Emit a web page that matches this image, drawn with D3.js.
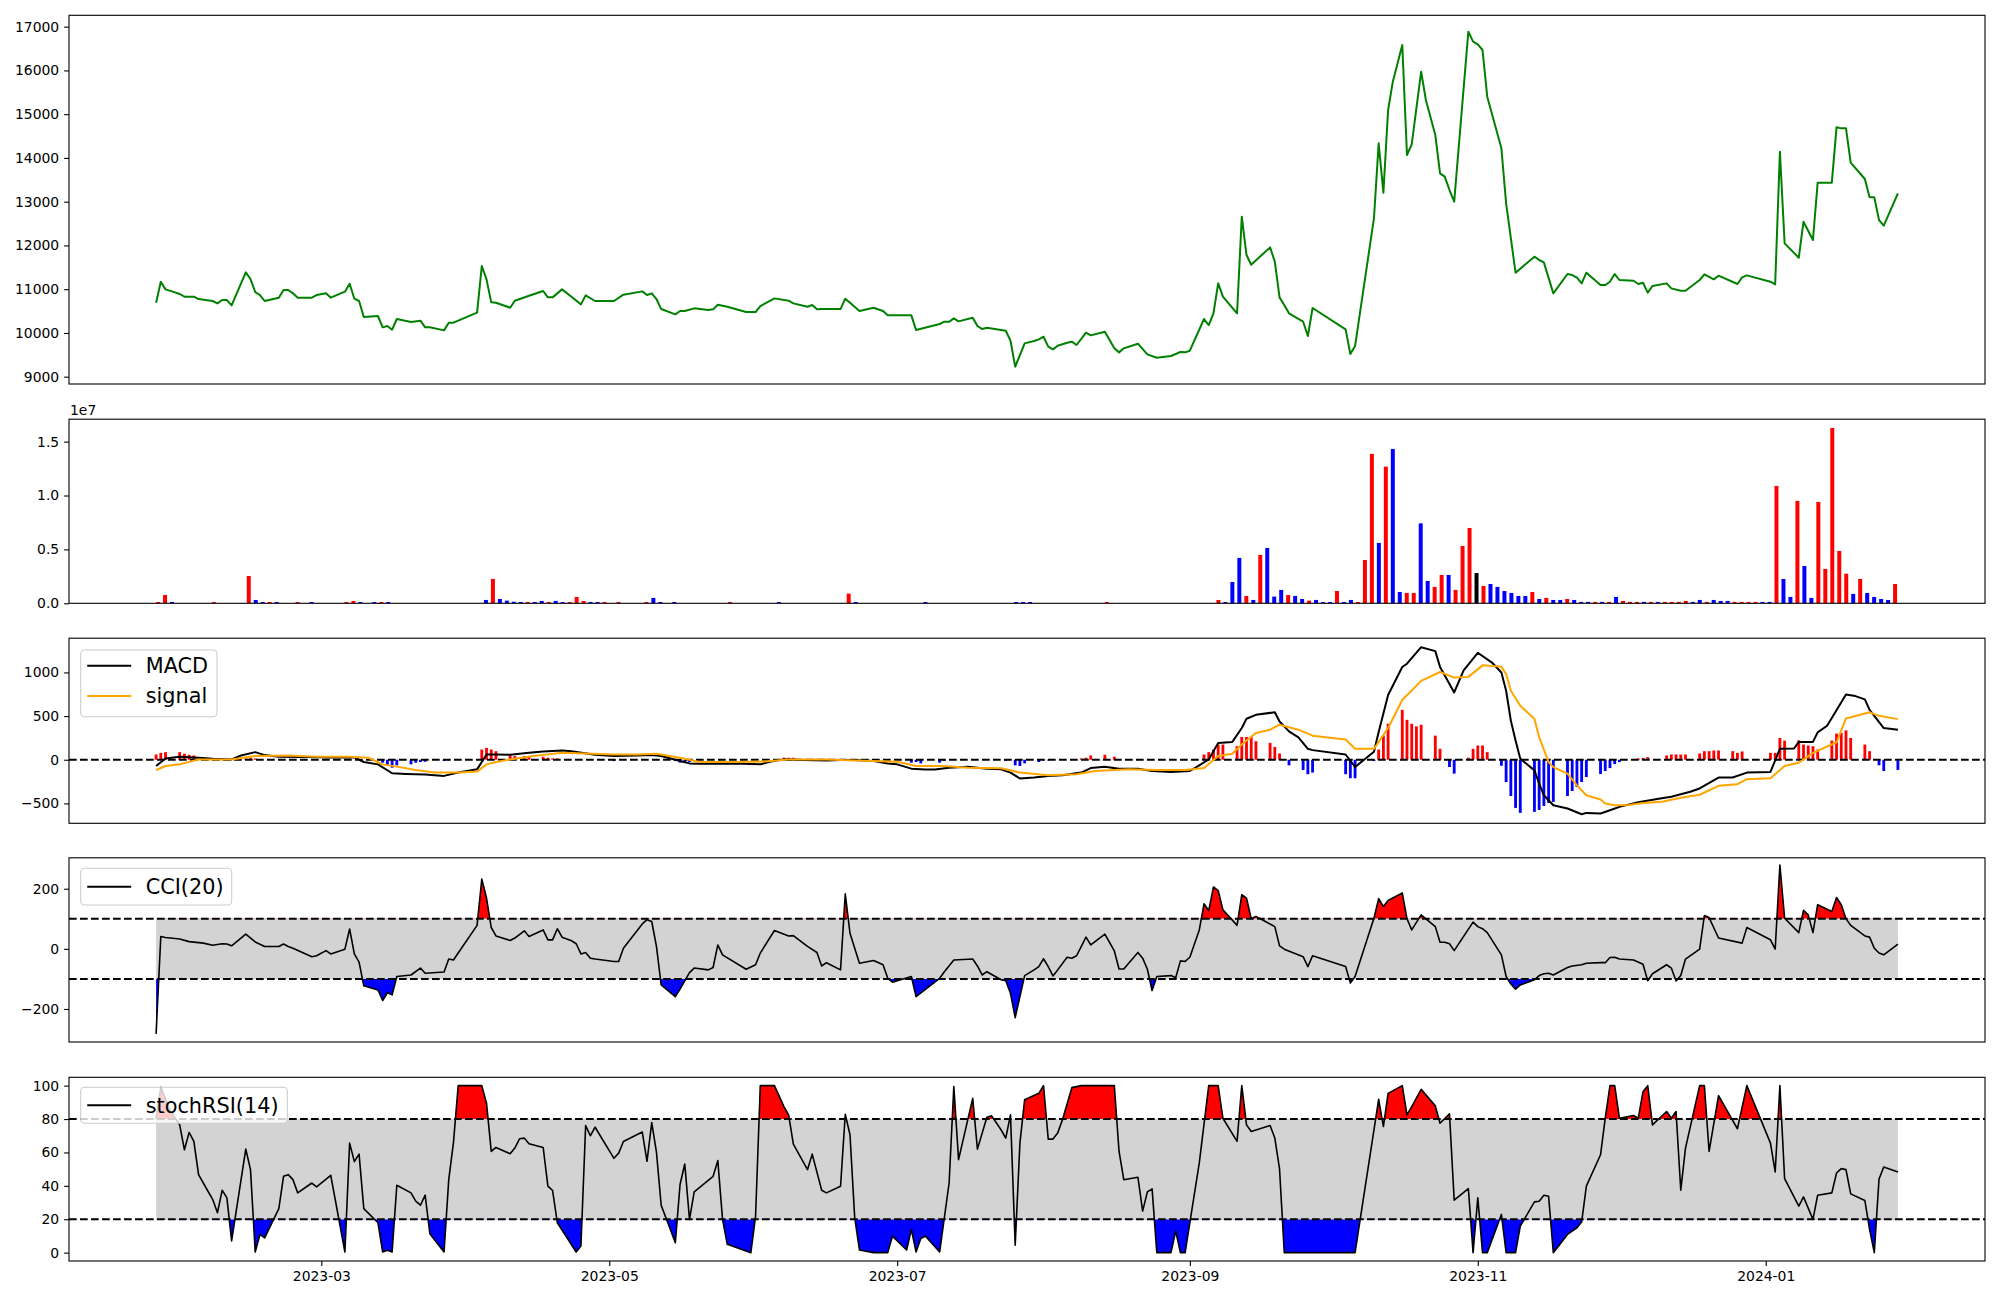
<!DOCTYPE html>
<html><head><meta charset="utf-8">
<script src="https://cdn.jsdelivr.net/npm/d3@7"></script>
<style>body{margin:0;background:#fff}svg{display:block}text{font-family:"DejaVu Sans",sans-serif}</style>
</head><body><svg id="c" width="2000" height="1300"></svg>
<script>
// ---------- DATA (x = trading day offset from 2023-01-25) ----------
const startDate = "2023-01-25";
const price = [[0,10691],[1,11171],[2,10996],[4,10928],[5,10890],[6,10829],[8,10829],[9,10775],[12,10730],[13,10676],[14,10752],[15,10752],[16,10630],[19,11385],[20,11232],[21,10935],[22,10867],[23,10730],[26,10806],[27,10981],[28,10981],[29,10905],[30,10806],[33,10806],[34,10867],[36,10905],[37,10806],[40,10943],[41,11126],[42,10783],[43,10730],[44,10364],[47,10387],[48,10128],[49,10158],[50,10074],[51,10318],[54,10249],[56,10280],[57,10128],[58,10128],[61,10059],[62,10234],[63,10234],[68,10463],[69,11530],[70,11225],[71,10699],[72,10691],[75,10577],[76,10737],[79,10851],[82,10958],[83,10813],[84,10813],[86,10996],[88,10829],[90,10653],[91,10859],[93,10730],[97,10730],[99,10874],[103,10950],[104,10867],[105,10905],[106,10775],[107,10546],[110,10425],[111,10501],[112,10501],[114,10562],[117,10524],[118,10539],[119,10646],[121,10600],[125,10478],[127,10478],[128,10615],[131,10790],[134,10737],[135,10676],[138,10600],[139,10638],[140,10539],[141,10546],[145,10546],[146,10783],[147,10691],[149,10501],[152,10577],[154,10501],[155,10402],[160,10402],[161,10067],[166,10204],[167,10257],[168,10257],[169,10333],[170,10265],[173,10349],[174,10158],[175,10089],[176,10120],[179,10067],[180,10051],[181,9823],[182,9229],[183,9495],[184,9762],[186,9815],[187,9853],[188,9914],[189,9686],[190,9625],[191,9708],[193,9777],[194,9800],[195,9724],[197,10006],[198,9945],[201,10029],[203,9648],[204,9556],[205,9648],[208,9754],[210,9511],[212,9434],[215,9473],[217,9564],[218,9556],[219,9594],[222,10318],[223,10181],[224,10448],[225,11133],[226,10829],[229,10448],[230,12657],[231,11781],[232,11560],[234,11758],[236,11956],[237,11629],[238,10813],[239,10638],[240,10448],[243,10257],[244,9930],[245,10570],[252,10082],[253,9518],[254,9701],[258,12619],[259,14333],[260,13206],[261,15095],[262,15743],[264,16581],[265,14067],[266,14311],[268,15972],[269,15324],[271,14524],[272,13648],[273,13572],[274,13267],[275,13000],[278,16886],[279,16657],[280,16596],[281,16467],[282,15400],[285,14219],[286,12962],[288,11377],[292,11743],[293,11667],[294,11613],[296,10905],[299,11347],[300,11324],[301,11263],[302,11133],[303,11377],[306,11095],[307,11095],[308,11171],[309,11347],[310,11210],[313,11194],[314,11118],[315,11148],[316,10920],[317,11072],[320,11133],[321,11019],[323,10966],[324,10966],[327,11210],[328,11339],[330,11225],[331,11309],[335,11118],[336,11271],[337,11316],[342,11171],[343,11110],[344,14143],[345,12048],[348,11720],[349,12543],[351,12124],[352,13434],[355,13434],[356,14699],[357,14676],[358,14676],[359,13891],[362,13518],[363,13099],[364,13099],[365,12581],[366,12451],[369,13191]];

// volume bars: [bar index, volume, colour code]
const volume = [[0,0.012e7,'r'],[1,0.077e7,'r'],[2,0.012e7,'b'],[8,0.012e7,'r'],[13,0.253e7,'r'],[14,0.031e7,'b'],[15,0.012e7,'b'],[16,0.012e7,'r'],[17,0.012e7,'b'],[20,0.012e7,'r'],[22,0.012e7,'b'],[27,0.012e7,'r'],[28,0.022e7,'r'],[29,0.012e7,'b'],[31,0.012e7,'b'],[32,0.012e7,'r'],[33,0.012e7,'b'],[47,0.031e7,'b'],[48,0.226e7,'r'],[49,0.04e7,'b'],[50,0.025e7,'b'],[51,0.015e7,'b'],[52,0.012e7,'b'],[53,0.012e7,'r'],[54,0.012e7,'b'],[55,0.022e7,'b'],[56,0.012e7,'r'],[57,0.022e7,'b'],[58,0.012e7,'b'],[59,0.012e7,'r'],[60,0.059e7,'r'],[61,0.022e7,'r'],[62,0.012e7,'b'],[63,0.012e7,'b'],[64,0.012e7,'r'],[66,0.012e7,'r'],[70,0.012e7,'r'],[71,0.05e7,'b'],[72,0.012e7,'b'],[74,0.012e7,'b'],[82,0.012e7,'r'],[89,0.012e7,'b'],[99,0.09e7,'r'],[100,0.012e7,'b'],[110,0.012e7,'b'],[123,0.012e7,'b'],[124,0.012e7,'b'],[125,0.012e7,'b'],[136,0.012e7,'r'],[152,0.031e7,'r'],[153,0.012e7,'b'],[154,0.198e7,'b'],[155,0.421e7,'b'],[156,0.068e7,'r'],[157,0.031e7,'b'],[158,0.449e7,'r'],[159,0.513e7,'b'],[160,0.062e7,'b'],[161,0.124e7,'b'],[162,0.077e7,'r'],[163,0.068e7,'b'],[164,0.04e7,'b'],[165,0.025e7,'r'],[166,0.031e7,'b'],[167,0.012e7,'b'],[168,0.012e7,'b'],[169,0.114e7,'r'],[170,0.012e7,'b'],[171,0.031e7,'b'],[172,0.012e7,'r'],[173,0.402e7,'r'],[174,1.386e7,'r'],[175,0.56e7,'b'],[176,1.268e7,'r'],[177,1.432e7,'b'],[178,0.105e7,'b'],[179,0.096e7,'r'],[180,0.096e7,'r'],[181,0.742e7,'b'],[182,0.207e7,'b'],[183,0.152e7,'r'],[184,0.263e7,'r'],[185,0.263e7,'b'],[186,0.124e7,'r'],[187,0.532e7,'r'],[188,0.699e7,'r'],[189,0.281e7,'k'],[190,0.161e7,'r'],[191,0.179e7,'b'],[192,0.152e7,'b'],[193,0.114e7,'b'],[194,0.096e7,'b'],[195,0.068e7,'b'],[196,0.068e7,'b'],[197,0.105e7,'r'],[198,0.04e7,'b'],[199,0.05e7,'r'],[200,0.031e7,'b'],[201,0.031e7,'b'],[202,0.04e7,'r'],[203,0.031e7,'b'],[204,0.013e7,'b'],[205,0.013e7,'b'],[206,0.013e7,'r'],[207,0.013e7,'b'],[208,0.013e7,'r'],[209,0.059e7,'b'],[210,0.022e7,'r'],[211,0.013e7,'r'],[212,0.013e7,'r'],[213,0.013e7,'b'],[214,0.013e7,'r'],[215,0.013e7,'b'],[216,0.013e7,'r'],[217,0.013e7,'r'],[218,0.013e7,'r'],[219,0.022e7,'r'],[220,0.013e7,'b'],[221,0.031e7,'b'],[222,0.013e7,'r'],[223,0.031e7,'b'],[224,0.022e7,'b'],[225,0.022e7,'b'],[226,0.013e7,'r'],[227,0.013e7,'r'],[228,0.013e7,'r'],[229,0.013e7,'r'],[230,0.013e7,'b'],[231,0.013e7,'b'],[232,1.089e7,'r'],[233,0.226e7,'b'],[234,0.059e7,'b'],[235,0.95e7,'r'],[236,0.346e7,'b'],[237,0.05e7,'b'],[238,0.94e7,'r'],[239,0.319e7,'r'],[240,1.627e7,'r'],[241,0.486e7,'r'],[242,0.275e7,'r'],[243,0.087e7,'b'],[244,0.226e7,'r'],[245,0.096e7,'b'],[246,0.059e7,'b'],[247,0.04e7,'b'],[248,0.031e7,'b'],[249,0.179e7,'r']];
const volumeBarCount = 250;

const macd = [[0,-72],[2,15],[5,34],[9,23],[12,11],[16,4],[18,49],[21,87],[23,53],[26,34],[32,30],[37,26],[42,26],[44,-26],[47,-53],[50,-155],[53,-163],[57,-170],[61,-185],[64,-147],[68,-110],[70,60],[72,60],[75,57],[79,79],[82,95],[86,106],[88,98],[93,57],[97,42],[102,49],[105,53],[107,42],[111,-15],[113,-42],[115,-45],[120,-42],[124,-45],[128,-53],[130,-23],[133,4],[137,-4],[142,-8],[145,-4],[148,-4],[152,-15],[155,-42],[157,-53],[160,-102],[163,-113],[165,-113],[168,-91],[172,-79],[176,-102],[179,-110],[181,-147],[183,-215],[186,-204],[189,-185],[192,-178],[196,-147],[198,-95],[201,-79],[204,-102],[208,-102],[211,-129],[215,-140],[219,-129],[221,-64],[223,4],[225,193],[228,204],[230,363],[231,469],[233,514],[237,544],[238,438],[240,325],[242,257],[244,125],[245,110],[252,60],[254,-83],[258,91],[259,318],[261,741],[264,1062],[265,1100],[268,1289],[271,1244],[272,1062],[275,771],[277,1024],[280,1225],[283,1113],[285,999],[286,790],[287,448],[288,220],[289,11],[292,-122],[293,-274],[294,-407],[296,-521],[299,-559],[302,-624],[303,-609],[306,-616],[308,-578],[310,-540],[314,-488],[318,-450],[321,-423],[325,-367],[327,-329],[331,-204],[334,-204],[337,-147],[342,-140],[344,125],[347,129],[348,204],[351,204],[352,314],[354,389],[358,748],[360,729],[362,691],[363,571],[366,363],[369,344]];
const signal = [[0,-117],[2,-72],[5,-53],[9,4],[16,4],[21,42],[28,49],[34,34],[41,34],[45,23],[48,-53],[51,-79],[55,-117],[59,-147],[64,-147],[68,-136],[70,-53],[72,-26],[75,4],[80,42],[86,79],[91,72],[97,60],[102,60],[106,68],[111,23],[115,-26],[124,-26],[129,-19],[134,4],[142,4],[148,-8],[157,-23],[161,-72],[167,-72],[172,-91],[179,-98],[183,-147],[189,-178],[195,-166],[199,-129],[206,-110],[212,-117],[218,-117],[222,-95],[225,42],[228,68],[230,174],[233,306],[236,344],[238,401],[242,344],[245,276],[252,231],[254,125],[258,125],[261,363],[264,684],[268,903],[272,1005],[275,941],[278,949],[281,1081],[283,1075],[285,1064],[286,981],[287,790],[289,619],[292,467],[293,258],[295,-27],[296,-84],[299,-160],[301,-293],[303,-407],[306,-456],[307,-502],[309,-521],[310,-521],[312,-518],[315,-495],[319,-480],[323,-435],[327,-401],[331,-299],[335,-280],[337,-223],[342,-212],[345,-72],[348,-34],[351,79],[356,200],[358,473],[363,544],[365,503],[369,465]];
const histogram = [[0,60],[1,79],[2,87],[5,87],[6,68],[7,57],[8,49],[19,15],[20,20],[21,15],[48,-34],[49,-64],[50,-91],[51,-64],[54,-53],[55,-34],[56,-26],[57,-23],[61,-15],[62,-8],[69,117],[70,136],[71,117],[72,98],[75,49],[76,42],[78,42],[79,42],[82,34],[83,23],[84,15],[85,15],[97,-15],[110,-15],[111,-34],[112,-34],[113,-26],[133,23],[134,23],[135,23],[160,-34],[161,-26],[162,-42],[166,-34],[167,-15],[180,-15],[181,-4],[182,-64],[183,-72],[184,-42],[187,-26],[188,-8],[189,-8],[196,15],[197,23],[198,49],[201,57],[203,34],[222,60],[223,87],[224,117],[225,174],[226,174],[229,155],[230,261],[231,261],[232,261],[233,212],[236,193],[237,147],[238,72],[240,-64],[243,-117],[244,-166],[245,-147],[252,-166],[253,-212],[254,-212],[258,-15],[259,117],[260,276],[261,412],[264,571],[265,457],[266,412],[267,382],[268,401],[271,276],[272,125],[274,-83],[275,-159],[278,23],[279,125],[280,163],[281,163],[282,87],[285,-68],[286,-255],[287,-415],[288,-552],[289,-609],[292,-597],[293,-575],[294,-529],[295,-495],[296,-483],[299,-415],[300,-358],[301,-312],[302,-255],[303,-198],[306,-164],[307,-130],[308,-96],[309,-50],[310,-27],[314,15],[315,19],[316,30],[320,49],[321,60],[322,60],[323,60],[324,60],[327,72],[328,98],[329,98],[330,106],[331,106],[334,98],[335,79],[336,95],[342,79],[343,79],[344,249],[345,219],[348,223],[349,174],[350,163],[351,155],[352,117],[355,219],[356,299],[357,306],[358,336],[359,249],[362,174],[363,98],[365,-64],[366,-129],[369,-117]];
const cci = [[0,-283],[1,41],[2,38],[5,33],[7,24],[10,19],[12,12],[14,17],[15,16],[16,10],[19,49],[21,23],[23,8],[26,8],[27,16],[28,8],[29,2],[31,-12],[33,-26],[34,-23],[36,-6],[37,-17],[40,-1],[41,66],[42,-17],[43,-44],[44,-123],[47,-137],[48,-172],[49,-146],[50,-153],[51,-92],[54,-87],[56,-64],[57,-81],[61,-77],[62,-34],[63,-37],[64,-14],[68,78],[69,232],[70,169],[71,71],[72,43],[75,28],[76,36],[78,60],[79,41],[82,63],[83,30],[84,30],[85,67],[86,39],[88,27],[89,17],[90,-17],[91,-12],[92,-31],[93,-34],[97,-42],[98,-42],[99,2],[103,83],[104,97],[105,91],[106,8],[107,-120],[110,-159],[111,-134],[113,-79],[114,-64],[117,-70],[118,-62],[119,13],[120,-20],[125,-68],[127,-53],[128,-14],[131,61],[134,43],[135,44],[138,8],[140,-12],[141,-57],[142,-46],[145,-70],[146,183],[147,52],[149,-48],[152,-39],[154,-53],[155,-98],[156,-111],[160,-92],[161,-159],[166,-98],[167,-76],[169,-37],[173,-34],[174,-57],[175,-87],[176,-76],[179,-103],[180,-106],[181,-148],[182,-229],[184,-89],[186,-70],[187,-59],[188,-33],[189,-59],[190,-90],[191,-70],[193,-28],[194,-31],[195,-23],[197,39],[198,13],[201,49],[203,-7],[204,-67],[205,-67],[208,-12],[209,-31],[210,-68],[211,-139],[212,-92],[215,-89],[216,-96],[217,-40],[218,-42],[219,-28],[221,63],[222,150],[223,127],[224,206],[225,194],[226,130],[229,78],[230,180],[231,169],[232,100],[233,108],[235,91],[237,74],[238,10],[239,-1],[243,-26],[244,-59],[245,-23],[252,-59],[253,-114],[254,-92],[258,102],[259,167],[260,141],[261,161],[264,186],[265,100],[266,63],[268,113],[271,74],[272,22],[273,22],[274,17],[275,-6],[279,89],[280,74],[281,67],[282,54],[285,-20],[286,-92],[287,-117],[288,-134],[289,-120],[292,-103],[293,-89],[294,-83],[295,-81],[296,-87],[299,-62],[300,-57],[302,-53],[303,-48],[306,-46],[307,-46],[308,-29],[309,-28],[310,-34],[313,-37],[315,-51],[316,-106],[317,-83],[320,-53],[321,-64],[322,-107],[323,-89],[324,-34],[327,-1],[328,111],[329,104],[331,36],[336,19],[337,71],[342,30],[343,-1],[344,279],[345,102],[348,54],[349,128],[350,113],[351,54],[352,147],[355,124],[356,171],[357,147],[358,100],[359,78],[362,43],[363,39],[364,2],[365,-14],[366,-20],[369,16]];
const stochRSI = [[0,80],[1,99],[3,85],[5,76.5],[6,61.6],[7,72],[8,66.6],[9,46.7],[10,41.7],[12,31.8],[13,23.9],[14,37.4],[15,32.8],[16,7],[19,62],[20,49.7],[21,0.4],[22,10.9],[23,8.9],[26,26.4],[27,45.7],[28,46.7],[29,43.7],[30,35.8],[33,41.7],[34,39.4],[37,46.3],[40,0.4],[41,65.6],[42,54.5],[43,59],[44,26.4],[47,17.9],[48,0.4],[49,1.4],[50,0.4],[51,40.4],[54,35.8],[55,30.8],[56,28.4],[57,34.4],[58,11.3],[61,0.4],[62,43.7],[63,66],[64,100],[69,100],[70,89.5],[71,60.6],[72,63],[75,59.2],[76,62.6],[77,68.2],[78,68.6],[79,65.2],[82,63],[83,39.8],[84,37.2],[85,17.9],[89,0.4],[90,4],[91,76.1],[92,70],[93,75.1],[97,56.5],[98,59.6],[99,66.6],[103,72.2],[104,54.7],[105,77.9],[106,60.2],[107,28.4],[110,6],[111,40.8],[112,53.1],[113,19.9],[114,36.4],[118,45.7],[119,55.1],[120,19.9],[121,5],[126,0],[127,21.9],[128,100],[131,100],[133,87.5],[134,82.5],[135,65],[138,49.7],[139,59],[141,37.4],[142,35.8],[145,39.8],[146,82.9],[147,70.6],[148,20.9],[149,1.6],[152,0],[155,0],[156,9.9],[159,1.6],[160,13.9],[161,0.4],[162,8.5],[163,9.9],[166,0.4],[168,41.7],[169,99.4],[170,55.7],[173,92.4],[174,62],[176,81.1],[177,81.9],[179,73.6],[180,68.6],[181,82.5],[182,4.4],[183,65.6],[184,91.5],[187,95.4],[188,100],[189,68],[190,68],[191,71.6],[192,79.5],[194,98.8],[196,100],[203,100],[204,60.6],[205,43.7],[208,45.1],[209,24.9],[210,36.4],[211,38.2],[212,0],[215,0],[216,12.9],[217,0],[218,0],[221,53.7],[223,100],[225,100],[226,80.5],[229,66.6],[230,100],[231,76.5],[232,72.6],[236,76.1],[237,68.6],[238,50.1],[239,0],[254,0],[259,91.8],[260,75.5],[261,95.4],[264,100],[265,82.5],[266,87.5],[268,97.8],[271,87.9],[272,77.5],[274,83.1],[275,31.4],[278,38.4],[279,0],[280,32.8],[281,0],[282,0],[285,22.9],[286,0],[288,0],[289,15.9],[292,30.4],[293,30.8],[294,34.4],[295,33.8],[296,0],[299,10.9],[301,14.9],[302,18.3],[303,39.8],[306,58.6],[307,80.5],[308,100],[309,100],[310,80.5],[313,82.1],[314,80.5],[315,96.4],[316,100],[317,76.5],[320,84.5],[321,80.5],[322,84.5],[323,37.4],[324,62.6],[327,100],[328,100],[329,60.6],[331,94],[335,74.2],[337,100],[342,65.6],[343,48.3],[344,100],[345,44.3],[348,27.8],[349,33.4],[351,19.9],[352,34.4],[355,35.8],[356,47.7],[357,50.3],[358,49.7],[359,35.2],[362,31.2],[363,13.9],[364,0],[365,44.1],[366,51.3],[369,48.3]];

const xTickLabels = ["2023-03","2023-05","2023-07","2023-09","2023-11","2024-01"];
const priceTicks = [9000,10000,11000,12000,13000,14000,15000,16000,17000];
const volumeTicks = [0,0.5e7,1.0e7,1.5e7];
const macdTicks = [-500,0,500,1000];
const cciTicks = [-200,0,200];
const stochTicks = [0,20,40,60,80,100];
const cciLevels = [100,-100];
const stochLevels = [80,20];

// ---------- LAYOUT ----------
const svg = d3.select("#c");
const L = 69, R = 1985;
const P = [{t:15.3,b:384},{t:419.2,b:603.3},{t:638.2,b:823.3},{t:857.8,b:1042},{t:1077.3,b:1261}];
const DAY = 864e5, t0 = d3.utcParse("%Y-%m-%d")(startDate).getTime();
const toDate = d => new Date(t0 + d*DAY);
const lastDay = price[price.length-1][0];
const pad = 0.05*lastDay;
const x = d3.scaleUtc().domain([toDate(-pad), toDate(lastDay+pad)]).range([L,R]);
const minus = s => String(s).replace("-", "\u2212");
const colorMap = {r:"red", b:"blue", k:"black"};

let clipN = 0;
function clipRect(x0,y0,w,h){
  const id = "cl"+(clipN++);
  svg.append("clipPath").attr("id",id).append("rect").attr("x",x0).attr("y",y0).attr("width",w).attr("height",h);
  return "url(#"+id+")";
}
function makePanel(i, domain, ticks, fmt){
  const p = P[i];
  const y = d3.scaleLinear().domain(domain).range([p.b,p.t]);
  const g = svg.append("g").attr("clip-path", clipRect(L,p.t,R-L,p.b-p.t));
  const ax = svg.append("g").attr("transform",`translate(${L},0)`)
    .call(d3.axisLeft(y).tickValues(ticks).tickSize(4.9).tickPadding(4.9).tickFormat(fmt));
  ax.select(".domain").remove();
  ax.selectAll("text").attr("font-size","13.9px").attr("font-family","DejaVu Sans").attr("fill","#000");
  ax.selectAll("line").attr("stroke","#000").attr("stroke-width",1.1);
  return {g,y,p};
}
function frame(p){
  svg.append("rect").attr("x",L).attr("y",p.t).attr("width",R-L).attr("height",p.b-p.t)
    .attr("fill","none").attr("stroke","#000").attr("stroke-width",1.1);
}
function hline(g,y,v){
  g.append("line").attr("x1",L).attr("x2",R).attr("y1",y(v)).attr("y2",y(v))
    .attr("stroke","#000").attr("stroke-width",2).attr("stroke-dasharray","7.7,3.3");
}
function drawLine(g,y,data,color,w){
  g.append("path").datum(data)
    .attr("d", d3.line().x(d=>x(toDate(d[0]))).y(d=>y(d[1])))
    .attr("fill","none").attr("stroke",color).attr("stroke-width",w).attr("stroke-linejoin","round");
}
function legend(x0,y0,w,h,items){
  const lg = svg.append("g");
  lg.append("rect").attr("x",x0).attr("y",y0).attr("width",w).attr("height",h).attr("rx",4)
    .attr("fill","#fff").attr("fill-opacity",0.8).attr("stroke","#cccccc").attr("stroke-width",1.1);
  items.forEach((it,k)=>{
    const cy = it.cy;
    lg.append("line").attr("x1",x0+6.5).attr("x2",x0+50.5).attr("y1",cy).attr("y2",cy)
      .attr("stroke",it.color).attr("stroke-width",2);
    lg.append("text").attr("x",x0+65).attr("y",cy).attr("dy","0.36em").attr("font-size","20.8px")
      .attr("fill","#000").text(it.label);
  });
}
function bandPanel(panel, data, hi, lo){
  const {g,y,p} = panel;
  const dx = d=>x(toDate(d[0]));
  const ends = [data[0][0], data[data.length-1][0]];
  g.append("path").datum(ends)
    .attr("d", d3.area().x(d=>x(toDate(d))).y0(y(lo)).y1(y(hi)))
    .attr("fill","#d3d3d3");
  g.append("g").attr("clip-path", clipRect(L,p.t,R-L,y(hi)-p.t))
    .append("path").datum(data).attr("d", d3.area().x(dx).y0(y(hi)).y1(d=>y(d[1]))).attr("fill","red");
  g.append("g").attr("clip-path", clipRect(L,y(lo),R-L,p.b-y(lo)))
    .append("path").datum(data).attr("d", d3.area().x(dx).y0(y(lo)).y1(d=>y(d[1]))).attr("fill","blue");
  hline(g,y,hi); hline(g,y,lo);
  drawLine(g,y,data,"#000",1.6);
}

// ---------- PANEL 1: price ----------
const p1 = makePanel(0,[8833,17260],priceTicks,d=>d);
drawLine(p1.g,p1.y,price,"green",2);
frame(p1.p);

// ---------- PANEL 2: volume ----------
const p2 = makePanel(1,[0,1.708e7],volumeTicks,d=>d3.format(".1f")(d/1e7));
const volX = d3.scaleLinear().domain([0,volumeBarCount-1]).range([x(toDate(0.42)), x(toDate(368.4))]);
const vw = (volX(1)-volX(0))*0.57;
p2.g.selectAll("rect.v").data(volume).enter().append("rect")
  .attr("x",d=>volX(d[0])-vw/2).attr("width",vw)
  .attr("y",d=>p2.y(d[1])).attr("height",d=>p2.y(0)-p2.y(d[1]))
  .attr("fill",d=>colorMap[d[2]]);
frame(p2.p);
svg.append("text").attr("x",70).attr("y",p2.p.t-4.5).attr("font-size","13.9px").attr("fill","#000").text("1e7");

// ---------- PANEL 3: MACD ----------
const p3 = makePanel(2,[-728,1392],macdTicks,minus);
p3.g.selectAll("rect.h").data(histogram).enter().append("rect")
  .attr("x",d=>x(toDate(d[0]-0.3))).attr("width",d=>x(toDate(d[0]+0.3))-x(toDate(d[0]-0.3)))
  .attr("y",d=>Math.min(p3.y(d[1]),p3.y(0))).attr("height",d=>Math.abs(p3.y(d[1])-p3.y(0)))
  .attr("fill",d=>d[1]>=0?"red":"blue");
hline(p3.g,p3.y,0);
drawLine(p3.g,p3.y,macd,"#000",2);
drawLine(p3.g,p3.y,signal,"orange",2);
frame(p3.p);
legend(80.7,650,136.3,66.7,[{label:"MACD",color:"#000",cy:665.7},{label:"signal",color:"orange",cy:696}]);

// ---------- PANEL 4: CCI ----------
const p4 = makePanel(3,[-310,303],cciTicks,minus);
bandPanel(p4, cci, cciLevels[0], cciLevels[1]);
frame(p4.p);
legend(80.7,868.3,151,36.7,[{label:"CCI(20)",color:"#000",cy:886.7}]);

// ---------- PANEL 5: stochRSI ----------
const p5 = makePanel(4,[-5,105],stochTicks,d=>d);
bandPanel(p5, stochRSI, stochLevels[0], stochLevels[1]);
frame(p5.p);
legend(80.7,1087.3,206.6,36,[{label:"stochRSI(14)",color:"#000",cy:1105.3}]);

// x axis (bottom panel only)
const xTicks = xTickLabels.map(s=>d3.utcParse("%Y-%m")(s));
const xa = svg.append("g").attr("transform",`translate(0,${P[4].b})`)
  .call(d3.axisBottom(x).tickValues(xTicks).tickSize(4.9).tickPadding(4.9).tickFormat((d,i)=>xTickLabels[i]));
xa.select(".domain").remove();
xa.selectAll("text").attr("font-size","13.9px").attr("font-family","DejaVu Sans").attr("fill","#000");
xa.selectAll("line").attr("stroke","#000").attr("stroke-width",1.1);
</script></body></html>
